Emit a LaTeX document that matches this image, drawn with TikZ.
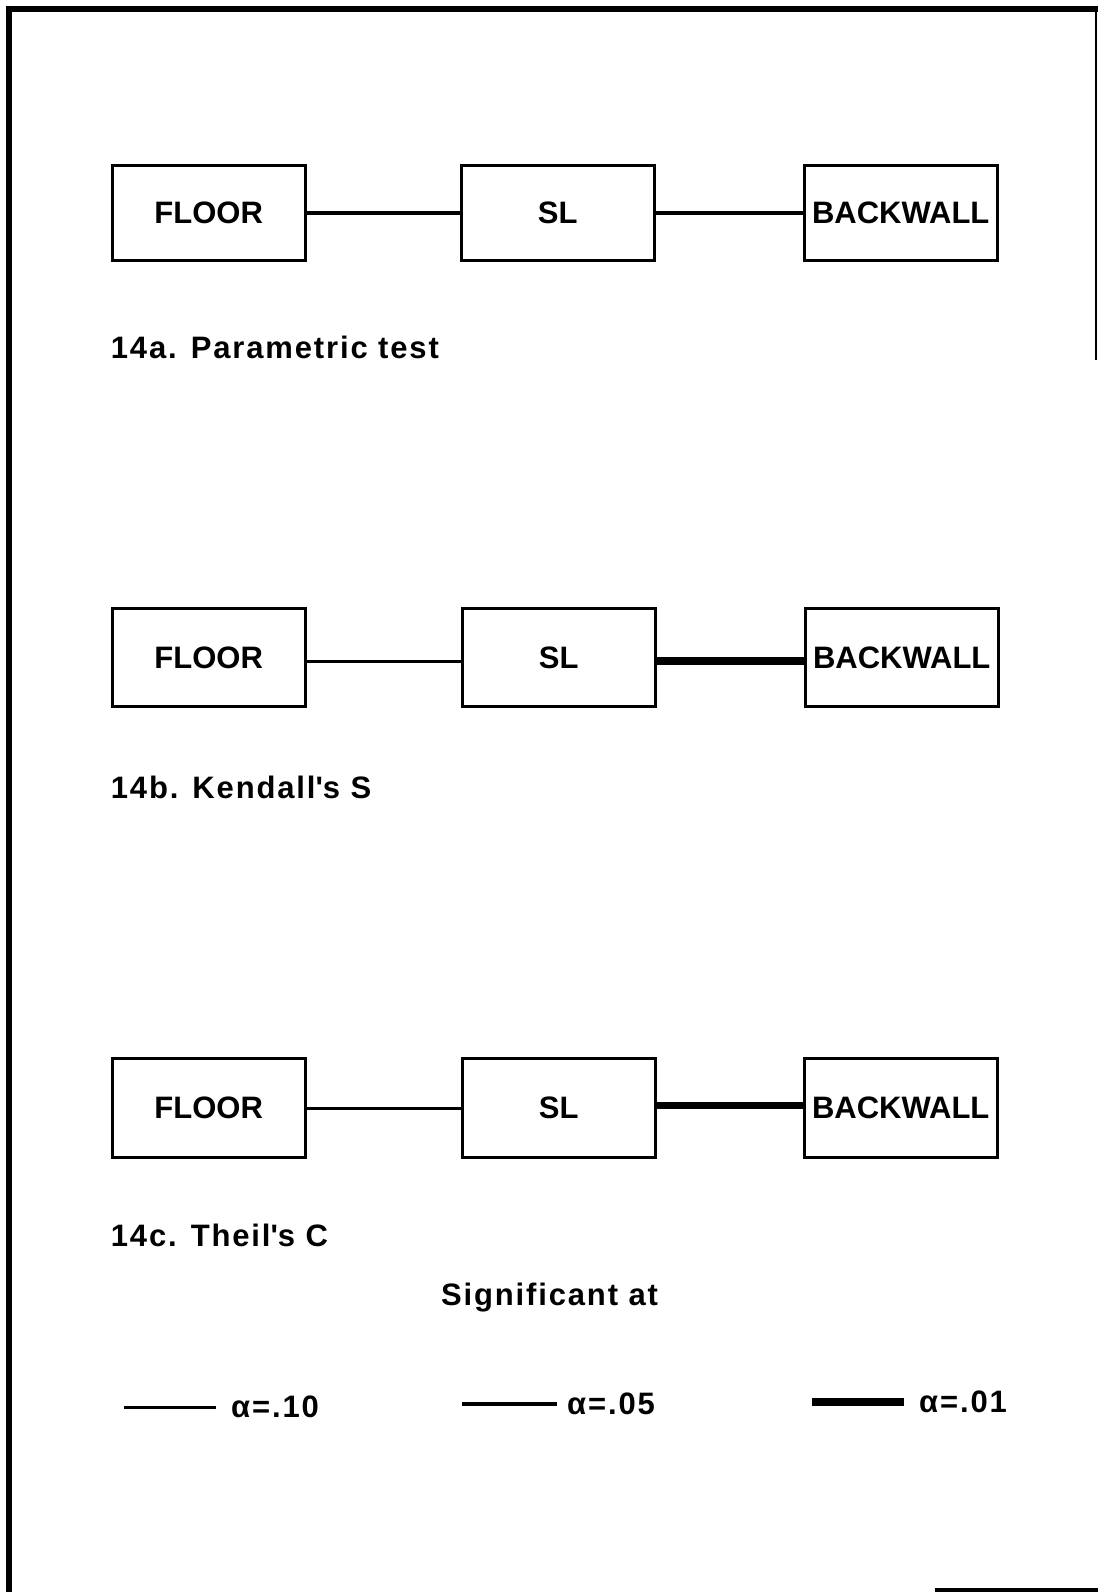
\documentclass[tikz,border=0pt]{standalone}
\usepackage{fontspec}
\setmainfont{Liberation Sans}
\usetikzlibrary{positioning, calc}

\tikzset{
  box/.style={draw, line width=3pt, minimum width=193pt, minimum height=98pt, inner sep=0pt,
    font=\fontsize{31}{36}\selectfont\bfseries},
  caption/.style={inner sep=0pt, font=\fontsize{31}{36}\selectfont\bfseries\addfontfeature{LetterSpace=6}},
  sigten/.style={line width=3pt},
  sigfive/.style={line width=4pt},
  sigone/.style={line width=7.5pt},
}

\begin{document}
\begin{tikzpicture}[x=1pt, y=1pt]
  \useasboundingbox (0,0) rectangle (1098,-1592);
  % frame of the page
  \draw[line width=6pt] (1098,-9) -- (9,-9) -- (9,-1592);
  \draw[line width=1.5pt] (1096,-9) -- (1096,-360);
  \draw[line width=4pt] (935,-1590) -- (1098,-1590);

  % 14a
  \node[box, minimum height=95pt] (floorA) at (208.7,-213.3) {FLOOR};
  \node[box, minimum height=95pt, right=153pt of floorA] (slA) {SL};
  \node[box, minimum height=95pt, right=147pt of slA] (backA) {BACKWALL};
  \draw[sigfive] (floorA) -- (slA);
  \draw[sigfive] (slA) -- (backA);
  \node[caption, below right=74pt and 0pt of floorA.south west] (capA) {14a. Parametric test};

  % 14b
  \node[box, below=345pt of floorA] (floorB) {FLOOR};
  \node[box, right=154pt of floorB] (slB) {SL};
  \node[box, right=147pt of slB] (backB) {BACKWALL};
  \draw[sigten] ([yshift=-4pt]floorB.east) -- ([yshift=-4pt]floorB.east -| slB.west);
  \draw[sigone] ([yshift=-3pt]slB.east) -- ([yshift=-3pt]slB.east -| backB.west);
  \node[caption, below right=68pt and 0pt of floorB.south west] (capB) {14b. Kendall\textquotesingle s S};

  % 14c
  \node[box, minimum height=99pt, below=349pt of floorB] (floorC) {FLOOR};
  \node[box, minimum height=99pt, right=154pt of floorC] (slC) {SL};
  \node[box, minimum height=99pt, right=146pt of slC] (backC) {BACKWALL};
  \draw[sigten] (floorC) -- (slC);
  \draw[sigone] ([yshift=3pt]slC.east) -- ([yshift=3pt]slC.east -| backC.west);
  \node[caption, below right=65pt and 0pt of floorC.south west] (capC) {14c. Theil\textquotesingle s C};

  % key
  \node[caption] (sigHead) at (549.5,-1298) {Significant at};
  \coordinate (keyTen) at (124,-1407);
  \coordinate[right=92pt of keyTen] (keyTenEnd);
  \draw[sigten] (keyTen) -- (keyTenEnd);
  \node[caption, right=15pt of keyTenEnd] (alphaTen) {α=.10};
  \coordinate (keyFive) at (462,-1404);
  \coordinate[right=95pt of keyFive] (keyFiveEnd);
  \draw[sigfive] (keyFive) -- (keyFiveEnd);
  \node[caption, right=10pt of keyFiveEnd] (alphaFive) {α=.05};
  \coordinate (keyOne) at (812,-1402);
  \coordinate[right=92pt of keyOne] (keyOneEnd);
  \draw[sigone] (keyOne) -- (keyOneEnd);
  \node[caption, right=15pt of keyOneEnd] (alphaOne) {α=.01};
\end{tikzpicture}
\end{document}
